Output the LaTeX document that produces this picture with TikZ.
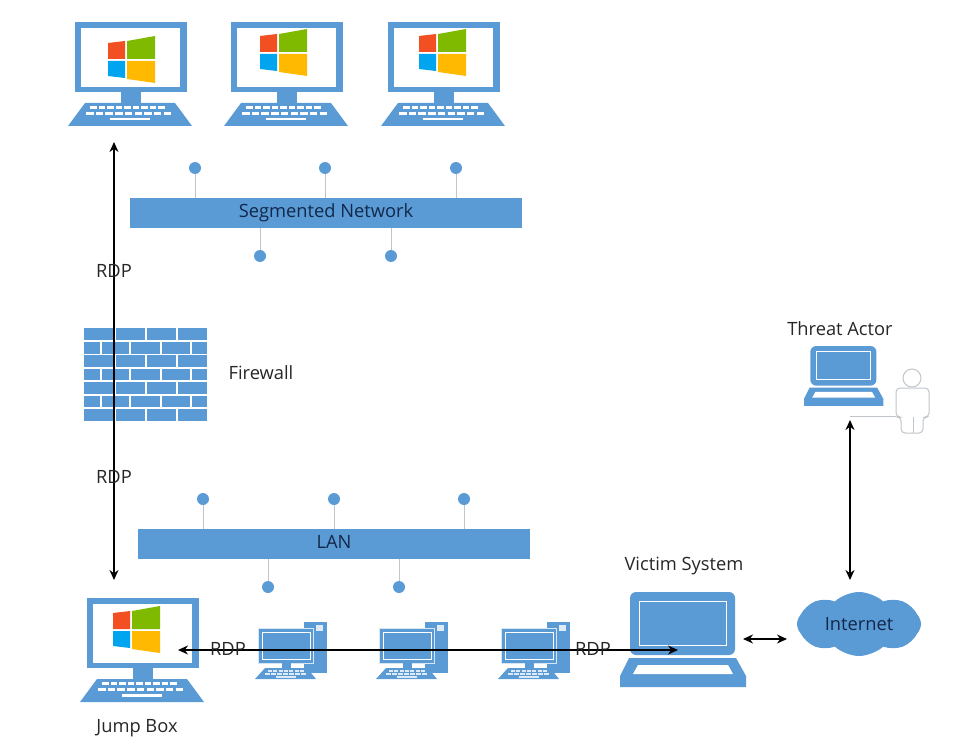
\documentclass[tikz,border=0pt]{standalone}
\usepackage{fontspec}
\setmainfont{Open Sans}
\usetikzlibrary{arrows.meta,shapes.symbols}
\definecolor{netblue}{HTML}{5B9BD5}
\definecolor{stubgray}{HTML}{BFC5CB}
\definecolor{keypale}{HTML}{DEEAF6}
\definecolor{onblue}{HTML}{12284A}
\definecolor{winred}{HTML}{F25022}
\definecolor{wingreen}{HTML}{7FBA00}
\definecolor{winblue}{HTML}{00A4EF}
\definecolor{winyellow}{HTML}{FFB900}
\tikzset{
	label text/.style={font=\fontsize{18.3}{22}\selectfont, text=black!85},
	bus bar/.style={fill=netblue, draw=none, minimum width=392pt, minimum height=30pt, inner sep=0pt, label text, text=onblue},
	stub dot/.style={circle, fill=netblue, minimum size=12pt, inner sep=0pt},
	stub/.style={draw=stubgray, line width=1pt},
	link/.style={line width=1.4pt, black, {Stealth[length=10pt,width=9pt]}-{Stealth[length=10pt,width=9pt]}},
	winpc/.pic={
		\fill[netblue] (0,0) rectangle (112,70);
		\fill[white] (6,6) rectangle (105,65);
		\fill[netblue] (46,70) rectangle (66,81);
		\fill[netblue] (10,81) -- (100,81) -- (117,104) -- (-7,104) -- cycle;
		\foreach \k in {0,...,8} {
			\fill[white] (15+8.5*\k,84) rectangle ++(6.5,3);
			\fill[white] (11+9.7*\k,90) rectangle ++(7.5,3);
		}
		\fill[white] (35,96) rectangle (75,98.5);
	},
	winlogo/.pic={
		\fill[winred] (0,7) -- (17,5) -- (17,23) -- (0,23) -- cycle;
		\fill[wingreen] (19,5) -- (47,0) -- (47,23) -- (19,23) -- cycle;
		\fill[winblue] (0,25) -- (17,25) -- (17,42) -- (0,40) -- cycle;
		\fill[winyellow] (19,25) -- (47,25) -- (47,47) -- (19,43) -- cycle;
	},
	towerpc/.pic={
		\fill[netblue] (46,-6) rectangle (69,45);
		\fill[keypale] (58,-3) rectangle (65,3);
		\fill[netblue, draw=white!75!netblue, line width=0.5pt] (0,0) rectangle (55,35);
		\draw[white, line width=0.8pt] (4,4) rectangle (52,31);
		\fill[netblue] (24,35) rectangle (33,40);
		\fill[netblue] (7,40) -- (49,40) -- (58,51) -- (-3,51) -- cycle;
		\foreach \k in {0,...,6} {
			\fill[keypale] (10+5.3*\k,42) rectangle ++(4,1.6);
			\fill[keypale] (7+6*\k,45) rectangle ++(4.5,1.6);
		}
		\fill[keypale] (18,48) rectangle (38,49.5);
	},
	laptop/.pic={
		\fill[netblue, rounded corners=6pt] (10,63) |- (115,0) -- (115,63) -- cycle;
		\draw[white, line width=0.9pt] (19,9) rectangle (106,53);
		\fill[netblue] (9,66) -- (116,66) -- (126,84) -- (126,95) -- (0,95) -- (0,84) -- cycle;
		\fill[white] (18,73) -- (108,73) -- (113,82) -- (13,82) -- cycle;
	},
}
\begin{document}
\begin{tikzpicture}[x=1pt, y=-1pt]
	\useasboundingbox (0,0) rectangle (974,754);

	% top row
	\pic at (75,22) {winpc};
	\pic at (231,22) {winpc};
	\pic at (388,22) {winpc};
	\pic at (108,36) {winlogo};
	\pic at (260,29) {winlogo};
	\pic at (419,29) {winlogo};

	% segmented network
	\node[bus bar] (segnet) at (326,213) {Segmented Network};
	\foreach \x/\name in {195/sa, 325/sb, 456/sc} {
		\node[stub dot] (\name) at (\x,168) {};
		\draw[stub] (\name) -- (\name |- segnet.north);
	}
	\foreach \x/\name in {260/sd, 391/se} {
		\node[stub dot] (\name) at (\x,256) {};
		\draw[stub] (\name) -- (\name |- segnet.south);
	}

	% firewall
	\fill[netblue] (84,328) rectangle (207,421);
	\foreach \y in {341,354.3,368,381,395,408}
		\draw[white, line width=1.2pt] (84,\y) -- (207,\y);
	\foreach \top in {328,354.3,381,408}
		\foreach \x in {115,146,177}
			\draw[white, line width=1.2pt] (\x,\top) -- ++(0,13.3);
	\foreach \top in {341,368,395}
		\foreach \x in {101,130,161,191}
			\draw[white, line width=1.2pt] (\x,\top) -- ++(0,13.3);
	\node[label text] (firewall) at (261,373) {Firewall};

	% lan
	\node[bus bar, text depth=5pt] (lan) at (334,544) {LAN};
	\foreach \x/\name in {203/la, 334/lb, 464/lc} {
		\node[stub dot] (\name) at (\x,499) {};
		\draw[stub] (\name) -- (\name |- lan.north);
	}
	\foreach \x/\name in {268/ld, 399/le} {
		\node[stub dot] (\name) at (\x,587) {};
		\draw[stub] (\name) -- (\name |- lan.south);
	}

	% bottom row
	\pic at (87,598) {winpc};
	\pic at (113,606) {winlogo};
	\pic at (258,628) {towerpc};
	\pic at (379,628) {towerpc};
	\pic at (501,628) {towerpc};
	\pic at (620,592) {laptop};
	\node[label text] (jumpbox) at (137,728.5) {Jump Box};
	\node[label text] (victim) at (684,565.5) {Victim System};
	\node[cloud, cloud puffs=8, cloud puff arc=85, aspect=2, fill=netblue, minimum width=124pt, minimum height=64pt, inner sep=0pt, label text, text=onblue] (inet) at (859,624) {Internet};

	% threat actor
	\pic[scale=0.63] at (804,346) {laptop};
	\node[label text] (threat) at (840,329) {Threat Actor};
	\coordinate (T1) at (850,416);
	\coordinate (T2) at (896,416);
	\draw[stub] (T1) -- (T2);
	\draw[stubgray, fill=white, line width=1pt, rounded corners=4pt] (896,417) -- (896,388) -- (929,388) -- (929,417) -- (923,417) -- (923,433) -- (901,433) -- (901,417) -- cycle;
	\draw[stubgray, line width=0.8pt] (913,417) -- (913,433);
	\draw[stubgray, fill=white, line width=1pt] (912,378) circle (9);

	% rdp links
	\coordinate (A1) at (114,142);
	\coordinate (A2) at (114,580);
	\coordinate (B1) at (178,650);
	\coordinate (B2) at (678,650);
	\coordinate (C1) at (743,639);
	\coordinate (C2) at (787,639);
	\coordinate (D1) at (850,420);
	\coordinate (D2) at (850,580);
	\draw[link] (A1) -- (A2);
	\draw[link] (B1) -- (B2);
	\draw[link] (C1) -- (C2);
	\draw[link] (D1) -- (D2);
	\node[label text] (rdpa) at (114,271) {RDP};
	\node[label text] (rdpb) at (114,477) {RDP};
	\node[label text] (rdpc) at (228,649) {RDP};
	\node[label text] (rdpd) at (593,649) {RDP};
\end{tikzpicture}
\end{document}
